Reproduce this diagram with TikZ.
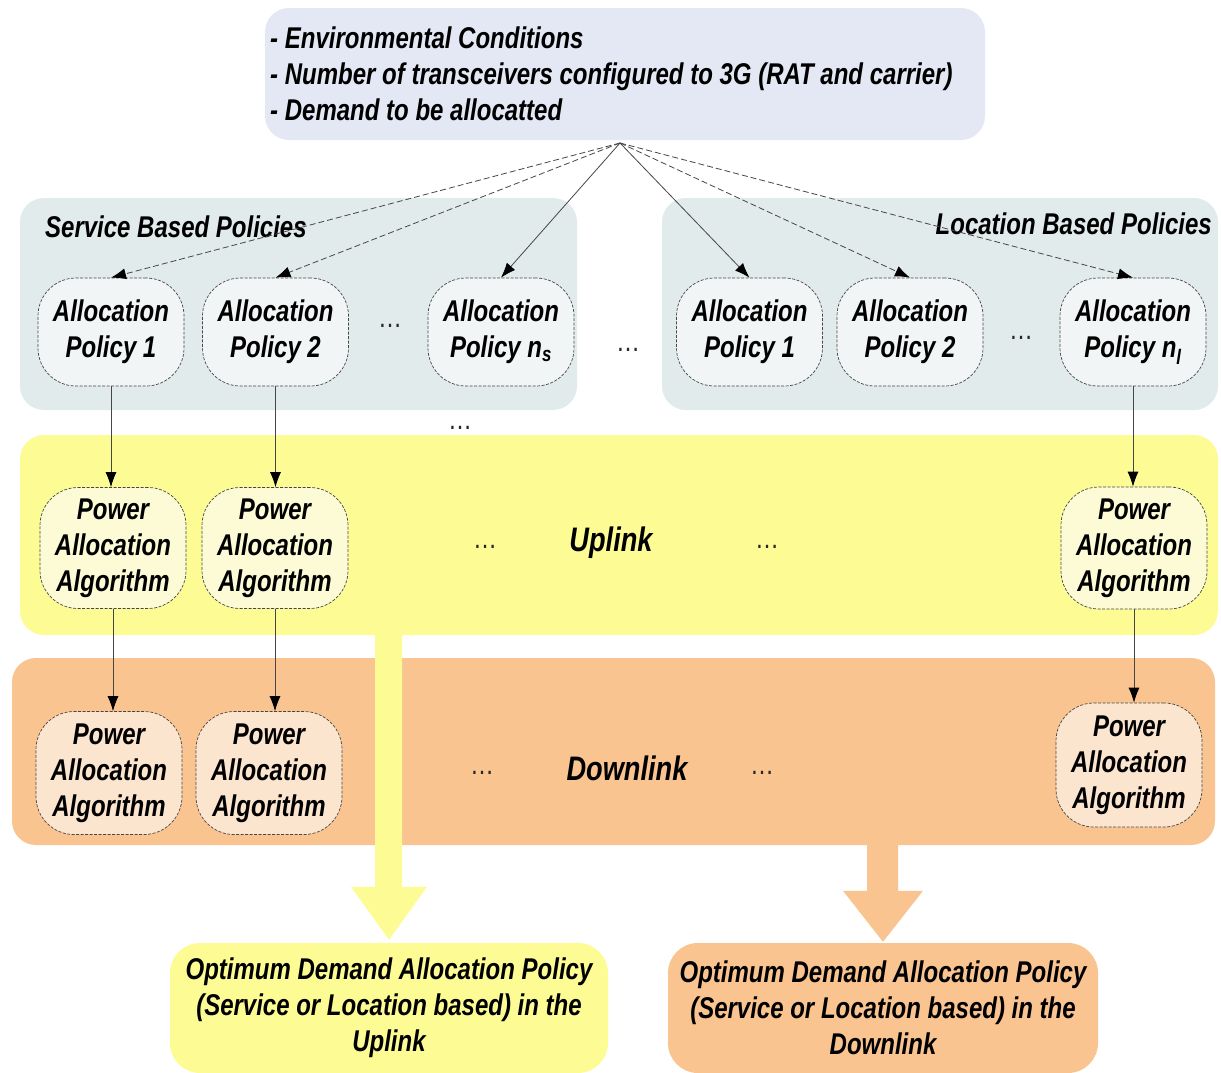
\documentclass[tikz,border=0pt]{standalone}
\usepackage{fontspec}
\setmainfont{Liberation Sans}[FakeStretch=0.8]
\usetikzlibrary{arrows.meta}
\definecolor{topfill}{RGB}{228,232,245}
\definecolor{polfill}{RGB}{226,235,236}
\definecolor{polnode}{RGB}{241,245,245}
\definecolor{upfill}{RGB}{253,252,148}
\definecolor{upnode}{RGB}{252,251,214}
\definecolor{dnfill}{RGB}{250,196,145}
\definecolor{dnnode}{RGB}{252,229,207}
\definecolor{edge}{RGB}{70,70,70}
\begin{document}
\begin{tikzpicture}[x=1pt,y=-1pt,
  txt/.style={font=\bfseries\itshape\fontsize{30}{36}\selectfont, align=center, inner sep=0pt, text=black},
  band/.style={rounded corners=24pt, draw=none, inner sep=0pt},
  algbox/.style={txt, draw=edge, line width=0.7pt, dash pattern=on 3pt off 1.5pt,
                 rounded corners=38pt, minimum width=146pt, inner sep=0pt},
  ell/.style={font=\fontsize{30}{30}\selectfont, inner sep=0pt, text=black!85},
  feed/.style={draw=edge, line width=0.8pt, -{Latex[length=15pt,width=11pt,black]}},
  feeddash/.style={feed, dash pattern=on 6pt off 3pt},
]
\useasboundingbox (0,0) rectangle (1221,1072);
\fill[white] (0,0) rectangle (1221,1072);

% input data
\node[band, fill=topfill, minimum width=720pt, minimum height=132pt] (inputs) at (625,74) {};
\node[txt, align=left, anchor=west] (inputtxt) at (270,74)
  {- Environmental Conditions\\- Number of transceivers configured to 3G (RAT and carrier)\\- Demand to be allocatted};
\coordinate (hub) at (620,143);

% policy groups
\node[band, fill=polfill, minimum width=557pt, minimum height=212pt] (svc) at (298.5,304) {};
\node[band, fill=polfill, minimum width=556pt, minimum height=212pt] (loc) at (940,304) {};
\node[txt, anchor=west] (svclbl) at (45,227) {Service Based Policies};
\node[txt, anchor=east] (loclbl) at (1212,224) {Location Based Policies};

\node[algbox, fill=polnode, minimum height=108pt] (a1)  at (111,332) {Allocation\\Policy 1};
\node[algbox, fill=polnode, minimum height=108pt] (a2)  at (275.5,332) {Allocation\\Policy 2};
\node[algbox, fill=polnode, minimum height=108pt] (ans) at (501,332) {Allocation\\Policy n\textsubscript{s}};
\node[algbox, fill=polnode, minimum height=108pt] (b1)  at (749.5,332) {Allocation\\Policy 1};
\node[algbox, fill=polnode, minimum height=108pt] (b2)  at (910,332) {Allocation\\Policy 2};
\node[algbox, fill=polnode, minimum height=108pt] (bnl) at (1133,332) {Allocation\\Policy n\textsubscript{l}};

\node[ell] (e1) at (390,326) {\ldots};
\node[ell] (e2) at (628,350) {\ldots};
\node[ell] (e3) at (1021,338) {\ldots};
\node[ell] (e4) at (460,428) {\ldots};

% uplink stage
\node[band, fill=upfill, minimum width=1198pt, minimum height=200pt] (up) at (619,535) {};
\node[algbox, fill=upnode, minimum height=121pt] (p1) at (113,548) {Power\\Allocation\\Algorithm};
\node[algbox, fill=upnode, minimum height=121pt] (p2) at (275,548) {Power\\Allocation\\Algorithm};
\node[algbox, fill=upnode, minimum height=122pt] (pr) at (1134,548) {Power\\Allocation\\Algorithm};
\node[txt, font=\bfseries\itshape\fontsize{34}{40}\selectfont] (uplbl) at (611,543) {Uplink};
\node[ell] (e5) at (485,547) {\ldots};
\node[ell] (e6) at (767,547) {\ldots};

% downlink stage
\node[band, fill=dnfill, minimum width=1203pt, minimum height=187pt] (dn) at (613.5,751.5) {};
\node[algbox, fill=dnnode, minimum height=123pt] (d1) at (109,773) {Power\\Allocation\\Algorithm};
\node[algbox, fill=dnnode, minimum height=123pt] (d2) at (269,773) {Power\\Allocation\\Algorithm};
\node[algbox, fill=dnnode, minimum height=124pt] (dr) at (1129,765) {Power\\Allocation\\Algorithm};
\node[txt, font=\bfseries\itshape\fontsize{34}{40}\selectfont] (dnlbl) at (627,768) {Downlink};
\node[ell] (e7) at (482,773) {\ldots};
\node[ell] (e8) at (762,773) {\ldots};

% results
\node[band, rounded corners=30pt, fill=upfill, minimum width=438pt, minimum height=130pt] (optu) at (389,1008) {};
\node[txt] (optutxt) at (389,1008) {Optimum Demand Allocation Policy\\(Service or Location based) in the\\Uplink};
\node[band, rounded corners=30pt, fill=dnfill, minimum width=430pt, minimum height=130pt] (optd) at (883,1008) {};
\node[txt] (optdtxt) at (883,1008) {Optimum Demand Allocation Policy\\(Service or Location based) in the\\Downlink};

% block arrows towards the results
\fill[upfill] ([xshift=-14pt]optu.north |- up.south) -- ([xshift=13pt]optu.north |- up.south)
  -- ([xshift=13pt,yshift=56pt]optu.north) -- ([xshift=38pt,yshift=56pt]optu.north)
  -- ([yshift=3pt]optu.north) -- ([xshift=-38pt,yshift=56pt]optu.north)
  -- ([xshift=-14pt,yshift=56pt]optu.north) -- cycle;
\fill[dnfill] ([xshift=-16pt]optd.north |- dn.south) -- ([xshift=15pt]optd.north |- dn.south)
  -- ([xshift=15pt,yshift=52pt]optd.north) -- ([xshift=40pt,yshift=52pt]optd.north)
  -- ([yshift=1pt]optd.north) -- ([xshift=-40pt,yshift=52pt]optd.north)
  -- ([xshift=-16pt,yshift=52pt]optd.north) -- cycle;

% inputs to every policy
\draw[feeddash] (hub) -- (a1.north);
\draw[feeddash] (hub) -- (a2.north);
\draw[feed]     (hub) -- (ans.north);
\draw[feed]     (hub) -- (b1.north);
\draw[feeddash] (hub) -- (b2.north);
\draw[feeddash] (hub) -- (bnl.north);

% policy -> uplink -> downlink
\draw[feed] (a1.south) -- (a1.south |- p1.north);
\draw[feed] (a2.south) -- (a2.south |- p2.north);
\draw[feed] (bnl.south) -- (bnl.south |- pr.north);
\draw[feed] (p1.south) -- (p1.south |- d1.north);
\draw[feed] (p2.south) -- (p2.south |- d2.north);
\draw[feed] (pr.south) -- (pr.south |- dr.north);
\end{tikzpicture}
\end{document}
